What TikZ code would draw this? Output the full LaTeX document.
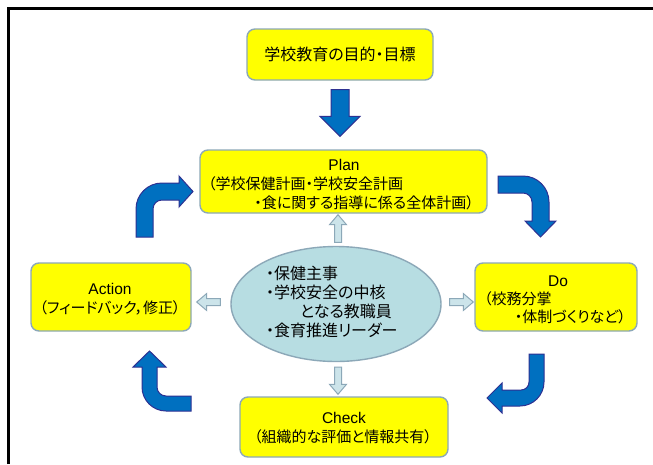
\documentclass[tikz,border=0pt]{standalone}
\usepackage{fontspec}
\setmainfont{Noto Sans CJK JP}[RawFeature=+palt]
\newfontfamily\latinfont{Liberation Sans}
\usetikzlibrary{calc,shapes.geometric}
\definecolor{boxyellow}{RGB}{255,255,0}
\definecolor{boxedge}{RGB}{140,168,184}
\definecolor{ellfill}{RGB}{183,221,226}
\definecolor{smallfill}{RGB}{204,228,234}
\definecolor{bigblue}{RGB}{0,112,192}
\definecolor{bigedge}{RGB}{46,49,146}
\newcommand\sarrow[6]{%
  \coordinate (sa-A) at #2; \coordinate (sa-B) at #3;
  \coordinate (sa-H) at ($(sa-B)!#6!(sa-A)$);
  \draw[#1] ($(sa-A)!#4!90:(sa-B)$) -- ($(sa-H)!#4!90:(sa-B)$) -- ($(sa-H)!#5!90:(sa-B)$)
    -- (sa-B) -- ($(sa-H)!#5!-90:(sa-B)$) -- ($(sa-H)!#4!-90:(sa-B)$) -- ($(sa-A)!#4!-90:(sa-B)$) -- cycle;}
\begin{document}
\begin{tikzpicture}[x=1pt,y=-1pt,
  box/.style={draw=boxedge, line width=1.4pt, fill=boxyellow, rounded corners=8pt, inner sep=0pt},
  ell/.style={ellipse, draw=boxedge, line width=1.4pt, fill=ellfill, inner sep=0pt},
  txt/.style={inner sep=0pt, font=\fontsize{15}{18}\selectfont},
  ltxt/.style={inner sep=0pt, font=\latinfont\fontsize{15.5}{18}\selectfont},
  etxt/.style={inner sep=0pt, anchor=west, font=\fontsize{16}{19}\selectfont},
  bigarrow/.style={fill=bigblue, draw=bigedge, line width=1pt, line join=miter},
  smallarrow/.style={fill=smallfill, draw=boxedge, line width=1pt, line join=miter},
  frame/.style={draw=black, line width=2.5pt}]
\useasboundingbox (0,0) rectangle (653,464);
\fill[white] (0,0) rectangle (653,464);
\draw[frame] (8.5,464) -- (8.5,8.5) -- (653,8.5);

% boxes
\node[box, minimum width=186, minimum height=51] (top) at (340,54.5) {};
\node[txt, font=\fontsize{16}{19}\selectfont] (toptxt) at (top.center) {学校教育の目的・目標};

\node[box, minimum width=287, minimum height=63] (plan) at (343.5,181.5) {};
\node[ltxt] (plan1) at (344,165) {Plan};
\node[txt, anchor=west] (plan2) at (208,184) {（学校保健計画・学校安全計画};
\node[txt, anchor=east] (plan3) at (474,203) {・食に関する指導に係る全体計画）};

\node[box, minimum width=160, minimum height=68] (action) at (111,297) {};
\node[ltxt] (action1) at (110,289) {Action};
\node[txt] (action2) at (110,308) {（フィードバック，修正）};

\node[box, minimum width=162, minimum height=68] (do) at (556,297) {};
\node[ltxt] (do1) at (558,281) {Do};
\node[txt, anchor=west] (do2) at (484,299) {（校務分掌};
\node[txt, anchor=east] (do3) at (626,317) {・体制づくりなど）};

\node[box, minimum width=208, minimum height=60] (check) at (344,427) {};
\node[ltxt] (check1) at (344,418) {Check};
\node[txt] (check2) at (343,437) {（組織的な評価と情報共有）};

\node[ell, minimum width=210, minimum height=115] (el) at (336,304) {};
\node[etxt] (el1) at (266,273) {・保健主事};
\node[etxt] (el2) at (266,292) {・学校安全の中核};
\node[etxt] (el3) at (300,311) {となる教職員};
\node[etxt] (el4) at (266,330) {・食育推進リーダー};

% straight arrows
\sarrow{bigarrow}{($(top.south)+(0,9)$)}{($(top.south |- plan.north)+(0,-13)$)}{9pt}{20pt}{20pt}
\sarrow{smallarrow}{($(el.north)+(2,-3.5)$)}{($(el.north |- plan.south)+(2,1)$)}{3.5pt}{8.5pt}{10pt}
\sarrow{smallarrow}{($(el.west)+(-10,-2)$)}{($(action.east)+(5,5)$)}{3.5pt}{8.5pt}{10pt}
\sarrow{smallarrow}{($(el.east)+(8,-2)$)}{($(do.west)+(-1,5)$)}{3.5pt}{8.5pt}{10pt}
\sarrow{smallarrow}{($(el.south)+(2,5)$)}{($(el.south |- check.north)+(2,-2)$)}{3.5pt}{8.5pt}{10pt}

% bent arrows
\draw[bigarrow] (136,237) -- (136,209) .. controls (136,194.6) and (147.6,183) .. (162,183)
  -- (179,183) -- (179,176) -- (193,191.5) -- (179,207) -- (179,200) -- (162,200)
  .. controls (157,200) and (153,204) .. (153,209) -- (153,237) -- cycle;
\draw[bigarrow] (498,176) -- (523,176) .. controls (537.4,176) and (549,187.6) .. (549,202)
  -- (549,221) -- (556,221) -- (540.5,237) -- (525,221) -- (532,221) -- (532,202)
  .. controls (532,197) and (528,193) .. (523,193) -- (498,193) -- cycle;
\draw[bigarrow] (529,354) -- (544,354) -- (544,382) .. controls (544,395.2) and (533.2,406) .. (520,406)
  -- (502,406) -- (502,413) -- (487,398) -- (502,383) -- (502,390) -- (521,390)
  .. controls (525.5,390) and (529,386.5) .. (529,382) -- cycle;
\draw[bigarrow] (191,396) -- (166,396) .. controls (161,396) and (157,392) .. (157,387)
  -- (157,367) -- (166,367) -- (149.5,351) -- (133,367) -- (142,367) -- (142,387)
  .. controls (142,400.2) and (152.8,411) .. (166,411) -- (191,411) -- cycle;
\end{tikzpicture}
\end{document}
